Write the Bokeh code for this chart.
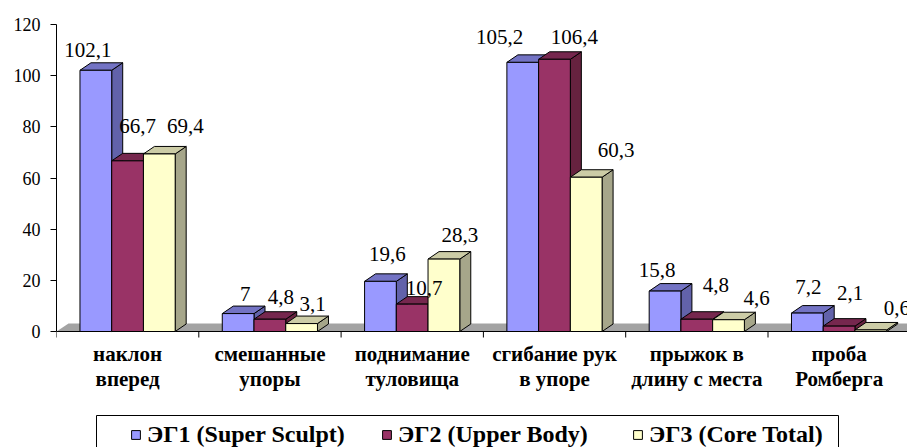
from bokeh.plotting import figure
from bokeh.models import Range1d, FixedTicker, Legend, LegendItem, ColumnDataSource, BoxAnnotation
from bokeh.core.properties import value
from bokeh.embed import file_html
from bokeh.resources import INLINE

# ---------------- data ----------------
categories = ["наклон\nвперед", "смешанные\nупоры", "поднимание\nтуловища",
              "сгибание рук\nв упоре", "прыжок в\nдлину с места", "проба\nРомберга"]
series_names = ["ЭГ1 (Super Sculpt)", "ЭГ2 (Upper Body)", "ЭГ3 (Core Total)"]
eg1 = [102.1, 7.0, 19.6, 105.2, 15.8, 7.2]
eg2 = [66.7, 4.8, 10.7, 106.4, 4.8, 2.1]
eg3 = [69.4, 3.1, 28.3, 60.3, 4.6, 0.6]
y_ticks = [0, 20, 40, 60, 80, 100, 120]
series_values = [eg1, eg2, eg3]

# ---------------- style ----------------
FRONT = ["#9999FF", "#993366", "#FFFFCC"]
TOP = ["#7373C4", "#76274E", "#CCCCA6"]
SIDE = ["#6262AA", "#66223F", "#A6A68A"]
FLOOR = "#A3A3A3"
SERIF = "'Liberation Serif', 'Times New Roman', 'DejaVu Serif', serif"
# label offsets in pixels (dx right, dy up from bar top)
LABEL_DX = [[-8, 7, 7, -23, -8, 1], [10, 11, 12, 20, 19, 11], [26, 11, 16, 30, 28, 26]]
LABEL_DY = [[20, 20, 27, 25, 21, 26], [35, 22, 16, 22, 34, 33], [28, 20, 24, 27, 22, 22]]

W, H = 907, 447
BL, BT = 56, 24          # frame left / top (px)
ZERO_Y = 331             # pixel row of value 0
PX_PER_CAT = 142.3
frame_w = W - BL
x_end = frame_w / PX_PER_CAT
y_max = y_ticks[-1]
px_per_unit = (ZERO_Y - BT) / y_max
y_min = -(H - ZERO_Y) / px_per_unit

GAP, BW = 0.165, 0.223
ddx, ddy = 11 / PX_PER_CAT, 7.5 / px_per_unit
fdx, fdy = 12 / PX_PER_CAT, 8 / px_per_unit
tick_len = 6 / px_per_unit

p = figure(width=W, height=H, output_backend="svg", toolbar_location=None,
           x_range=Range1d(0, x_end), y_range=Range1d(y_min, y_max),
           min_border_left=BL, min_border_right=0, min_border_top=BT, min_border_bottom=0)
p.outline_line_color = None
p.xgrid.visible = False
p.ygrid.visible = False
p.xaxis.visible = False
p.background_fill_color = "white"
p.border_fill_color = "white"

n = len(categories)
# floor
p.patch([0, n + 1, n + 1 + fdx, fdx], [0, 0, fdy, fdy], fill_color=FLOOR, line_color=None)
# category axis line and boundary ticks
p.segment(x0=[0], y0=[0], x1=[n + 1], y1=[0], line_color="black", line_width=1)
bounds = list(range(n + 1))
p.segment(x0=bounds, y0=[0] * len(bounds), x1=bounds, y1=[-tick_len] * len(bounds),
          line_color="black", line_width=1)

front_renderers = []
for j, vals in enumerate(series_values):
    x0 = [i + GAP + j * BW for i in range(n)]
    x1 = [a + BW for a in x0]
    xs_top = [[a, b, b + ddx, a + ddx] for a, b in zip(x0, x1)]
    ys_top = [[v, v, v + ddy, v + ddy] for v in vals]
    xs_side = [[b, b + ddx, b + ddx, b] for b in x1]
    ys_side = [[0, ddy, v + ddy, v] for v in vals]
    p.patches(xs_side, ys_side, fill_color=SIDE[j], line_color="black", line_width=1)
    p.patches(xs_top, ys_top, fill_color=TOP[j], line_color="black", line_width=1)
    src = ColumnDataSource(dict(left=x0, right=x1, top=vals, bottom=[0] * n))
    r = p.quad(left="left", right="right", top="top", bottom="bottom", source=src,
               fill_color=FRONT[j], line_color="black", line_width=1)
    front_renderers.append(r)

for j, vals in enumerate(series_values):
    cx = [i + GAP + j * BW + BW / 2 for i in range(n)]
    lsrc = ColumnDataSource(dict(x=cx, y=vals,
                                 t=[f"{v:g}".replace(".", ",") for v in vals],
                                 xo=LABEL_DX[j], yo=[-d for d in LABEL_DY[j]]))
    p.text(x="x", y="y", text="t", x_offset="xo", y_offset="yo", source=lsrc,
           text_font=value(SERIF), text_font_size="21px", text_color="black",
           text_align="center", text_baseline="middle")

# category labels
csrc = ColumnDataSource(dict(x=[i + 0.5 for i in range(n)], y=[0] * n, t=categories))
p.text(x="x", y="y", text="t", source=csrc, y_offset=10,
       text_font=value(SERIF), text_font_size="21px", text_font_style="bold",
       text_color="black", text_align="center", text_baseline="top", text_line_height=1.08)

# y axis
ya = p.yaxis[0]
ya.ticker = FixedTicker(ticks=y_ticks)
ya.bounds = (0, y_max)
ya.axis_line_color = "black"
ya.major_tick_line_color = "black"
ya.major_tick_out = 6
ya.major_tick_in = 0
ya.minor_tick_line_color = None
ya.major_label_standoff = 10
ya.major_label_text_font = SERIF
ya.major_label_text_font_size = "18px"
ya.major_label_text_color = "black"

# legend
legend = Legend(items=[LegendItem(label=nm, renderers=[r]) for nm, r in zip(series_names, front_renderers)],
                orientation="horizontal", location=(74, -1), margin=0, padding=0,
                glyph_width=11, glyph_height=11, label_standoff=6, spacing=30, label_width=204,
                border_line_alpha=0, background_fill_alpha=0,
                label_text_font=SERIF, label_text_font_size="24px",
                label_text_font_style="bold", label_text_color="black")
p.add_layout(legend, "center")
p.add_layout(BoxAnnotation(left=96, right=838, top=415, bottom=470,
                           left_units="canvas", right_units="canvas",
                           top_units="canvas", bottom_units="canvas",
                           fill_alpha=0, line_color="black", line_width=1, line_alpha=1))

open("out.html", "w").write(file_html(p, INLINE))
